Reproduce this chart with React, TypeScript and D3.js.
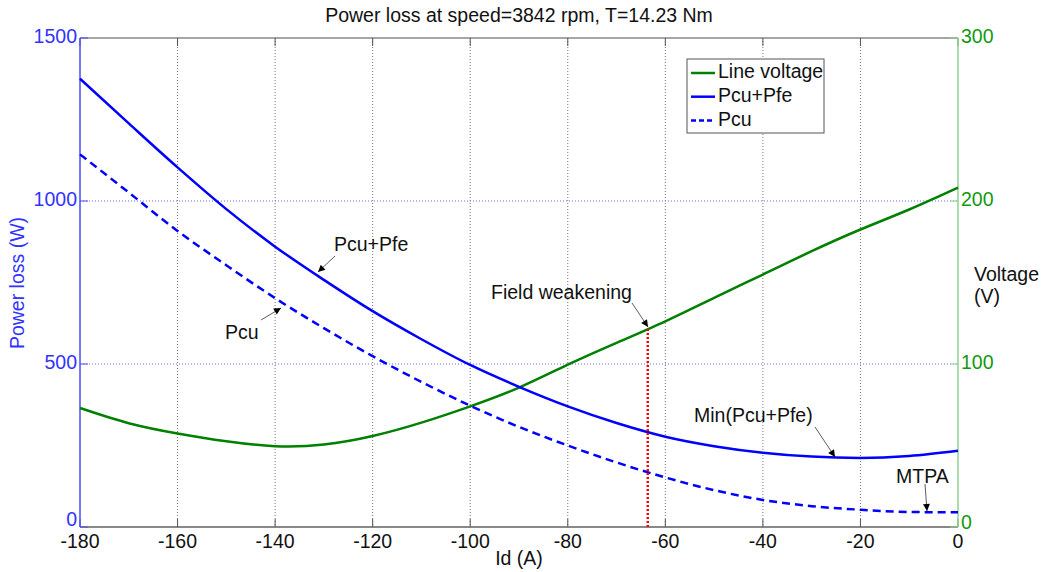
import React from "react";
import * as d3 from "d3";

const idValues = [-180, -170, -160, -150, -140, -130, -120, -110, -100, -90, -80, -70, -60, -50, -40, -30, -20, -10, 0];
const pcuPfe = [1375, 1238, 1103, 975, 860, 758, 662, 576, 497, 430, 370, 319, 277, 248, 228, 216, 212, 218, 234];
const pcu = [1143, 1026, 908, 803, 702, 610, 524, 445, 372, 307, 250, 198, 152, 113, 83, 64, 53, 46, 45];
const voltage = [73, 63.7, 57.4, 52.6, 49.6, 50.6, 55.8, 64, 74, 85.5, 99.6, 113, 126.2, 140.6, 154.9, 169.2, 182.5, 194.8, 208.2];

const xTicks = [-180, -160, -140, -120, -100, -80, -60, -40, -20, 0];
const leftTicks = [0, 500, 1000, 1500];
const rightTicks = [0, 100, 200, 300];
const fieldWeakeningId = -63.6;

const legendItems = [
  { label: "Line voltage", color: "#008000", dash: "" },
  { label: "Pcu+Pfe", color: "#0000ff", dash: "" },
  { label: "Pcu", color: "#0000ff", dash: "5,3" },
];

const W = 1046;
const H = 572;
const L = 80, R = 958, T = 38, B = 527;
const FONT = "'Liberation Sans', Arial, Helvetica, sans-serif";
const FS = 19.5;

export default function App() {
  const x = d3.scaleLinear().domain([-180, 0]).range([L, R]);
  const yL = d3.scaleLinear().domain([0, 1500]).range([B, T]);
  const yR = d3.scaleLinear().domain([0, 300]).range([B, T]);

  const lineL = d3.line<number>().x((_, i) => x(idValues[i])).y((d) => yL(d)).curve(d3.curveMonotoneX);
  const lineR = d3.line<number>().x((_, i) => x(idValues[i])).y((d) => yR(d)).curve(d3.curveNatural);

  const vAtFW = d3.interpolateNumber(
    voltage[11], voltage[12]
  )((fieldWeakeningId - idValues[11]) / 10);

  const annotations = [
    { text: "Pcu+Pfe", tx: 334, ty: 251, ax1: 335, ay1: 256, ax2: 318, ay2: 272 },
    { text: "Pcu", tx: 225, ty: 339, ax1: 261, ay1: 320, ax2: 281, ay2: 308 },
    { text: "Field weakening", tx: 491, ty: 299, ax1: 632, ay1: 303, ax2: 648, ay2: 327 },
    { text: "Min(Pcu+Pfe)", tx: 694, ty: 422, ax1: 815, ay1: 427, ax2: 835, ay2: 457 },
    { text: "MTPA", tx: 896, ty: 483, ax1: 925, ay1: 484, ax2: 927, ay2: 511 },
  ];

  return (
    <svg width={W} height={H} style={{ position: "absolute", left: 0, top: 0, background: "#fff" }} fontFamily={FONT}>
      <defs>
        <marker id="arr" viewBox="0 0 10 10" refX="10" refY="5" markerWidth="9" markerHeight="7" orient="auto" markerUnits="userSpaceOnUse">
          <path d="M0,0 L10,5 L0,10 z" fill="#000" />
        </marker>
      </defs>
      <rect x={0} y={0} width={W} height={H} fill="#fff" />
      {xTicks.filter((t) => t !== -180 && t !== 0).map((t) => (
        <line key={"gx" + t} x1={x(t)} x2={x(t)} y1={T} y2={B} stroke="#777" strokeWidth={1} strokeDasharray="1,2" />
      ))}
      {leftTicks.filter((t) => t !== 0 && t !== 1500).map((t) => (
        <line key={"gy" + t} x1={L} x2={R} y1={yL(t)} y2={yL(t)} stroke="#6a6aff" strokeWidth={1} strokeDasharray="1,2" />
      ))}
      <line x1={L} x2={R} y1={T} y2={T} stroke="#888" strokeWidth={1.5} />
      <line x1={L} x2={R} y1={B} y2={B} stroke="#888" strokeWidth={2} />
      {xTicks.map((t) => (
        <g key={"xt" + t}>
          <line x1={x(t)} x2={x(t)} y1={B} y2={B - 8} stroke="#555" strokeWidth={1} />
          <line x1={x(t)} x2={x(t)} y1={T} y2={T + 8} stroke="#555" strokeWidth={1} />
          <text x={x(t)} y={543} textAnchor="middle" dominantBaseline="middle" fontSize={FS} fill="#111">{t}</text>
        </g>
      ))}
      <line x1={L} x2={L} y1={T} y2={B} stroke="#4d4dff" strokeWidth={1.5} />
      {leftTicks.map((t) => (
        <g key={"lt" + t}>
          <line x1={L} x2={L + 8} y1={yL(t)} y2={yL(t)} stroke="#4d4dff" strokeWidth={1} />
          <text x={L - 3} y={t === 0 ? yL(t) - 6 : yL(t)} textAnchor="end" dominantBaseline="middle" fontSize={FS} fill="#3333ff">{t}</text>
        </g>
      ))}
      <line x1={R} x2={R} y1={T} y2={B} stroke="#8fd08f" strokeWidth={1.5} />
      {rightTicks.map((t) => (
        <g key={"rt" + t}>
          <line x1={R} x2={R - 8} y1={yR(t)} y2={yR(t)} stroke="#8fd08f" strokeWidth={1} />
          <text x={R + 3} y={t === 0 ? yR(t) - 3 : yR(t)} textAnchor="start" dominantBaseline="middle" fontSize={FS} fill="#119911">{t}</text>
        </g>
      ))}
      <path d={lineR(voltage) || ""} fill="none" stroke="#008000" strokeWidth={2.5} />
      <path d={lineL(pcuPfe) || ""} fill="none" stroke="#0000ff" strokeWidth={2.5} />
      <path d={lineL(pcu) || ""} fill="none" stroke="#0000ff" strokeWidth={2.5} strokeDasharray="8,5" />
      <line x1={x(fieldWeakeningId)} x2={x(fieldWeakeningId)} y1={B} y2={yR(vAtFW)} stroke="#ff0000" strokeWidth={2.5} strokeDasharray="2,2" />
      {annotations.map((a) => (
        <g key={a.text}>
          <text x={a.tx} y={a.ty} fontSize={FS} fill="#111">{a.text}</text>
          <line x1={a.ax1} y1={a.ay1} x2={a.ax2} y2={a.ay2} stroke="#333" strokeWidth={0.8} markerEnd="url(#arr)" />
        </g>
      ))}
      <rect x={687} y={59} width={137} height={74} fill="#fff" stroke="#555" strokeWidth={1} />
      {legendItems.map((it, i) => (
        <g key={it.label}>
          <line x1={691} x2={715} y1={73 + i * 23.7} y2={73 + i * 23.7} stroke={it.color} strokeWidth={2.5} strokeDasharray={it.dash} />
          <text x={718} y={73 + i * 23.7} dominantBaseline="middle" fontSize={FS} fill="#111">{it.label}</text>
        </g>
      ))}
      <text x={519} y={17} textAnchor="middle" dominantBaseline="middle" fontSize={FS} fill="#111">Power loss at speed=3842 rpm, T=14.23 Nm</text>
      <text x={519} y={560} textAnchor="middle" dominantBaseline="middle" fontSize={FS} fill="#111">Id (A)</text>
      <text transform={`translate(19,283) rotate(-90)`} textAnchor="middle" dominantBaseline="middle" fontSize={FS} fill="#3333ff">Power loss (W)</text>
      <text x={974} y={276} dominantBaseline="middle" fontSize={FS} fill="#111">Voltage</text>
      <text x={974} y={298} dominantBaseline="middle" fontSize={FS} fill="#111">(V)</text>
    </svg>
  );
}
